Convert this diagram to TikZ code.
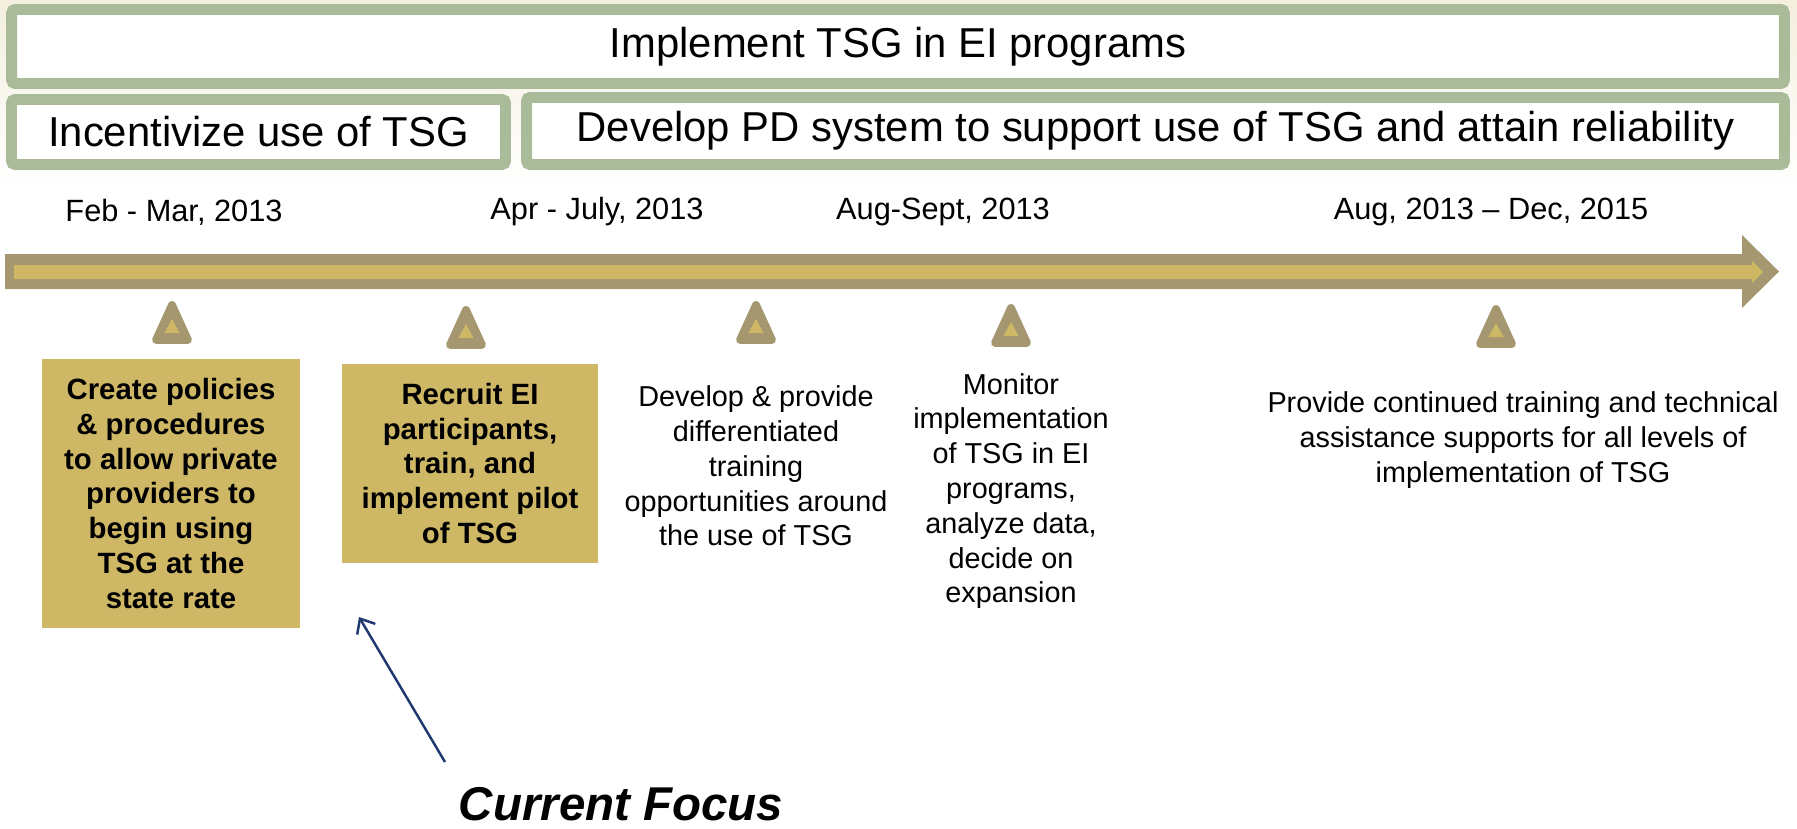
\documentclass[tikz,border=0pt]{standalone}
\usepackage{fontspec}
\setmainfont{Liberation Sans}
\usetikzlibrary{positioning,arrows.meta}

\definecolor{tsggreen}{HTML}{A9BB98}
\definecolor{tsgdark}{HTML}{A5976F}
\definecolor{tsggold}{HTML}{CEB866}
\definecolor{tsgcream}{HTML}{F3EEDD}
\definecolor{tsgnavy}{HTML}{1F3870}

\begin{document}
\begin{tikzpicture}[
		x=0.02cm, y=-0.02cm,
		phase/.style={draw=tsggreen, line width=6.2pt, rounded corners=2pt, fill=white, inner sep=0pt, font=\fontsize{23.8}{28}\selectfont},
		datelabel/.style={inner sep=0pt, font=\fontsize{17.5}{21}\selectfont},
		task/.style={fill=tsggold, inner sep=0pt, align=center, font=\fontsize{16.7}{19.8}\selectfont\bfseries},
		note/.style={inner sep=0pt, align=center, font=\fontsize{16.4}{19.8}\selectfont},
		marker/.style={fill=tsgdark, draw=tsgdark, line width=4.5pt, line join=round},
	]
		\useasboundingbox (0,0) rectangle (1797,828);
		\fill[top color=tsgcream, bottom color=white] (0,0) rectangle (1797,185);

		% phases
		\node [phase, minimum width=35.46cm, minimum height=1.48cm] (goal) at (898,46.5) {Implement TSG in EI programs};
		\node [phase, minimum width=9.88cm, minimum height=1.3cm] (incent) at (258.5,132) {Incentivize use of TSG};
		\node [phase, minimum width=25.16cm, minimum height=1.34cm] (pdsys) at (1155.5,131) {Develop PD system to support use of TSG and attain reliability};

		% dates
		\node [datelabel] (d1) at (174,212) {Feb - Mar, 2013};
		\node [datelabel] (d2) at (597,212) {Apr - July, 2013};
		\node [datelabel] (d3) at (943,212) {Aug-Sept, 2013};
		\node [datelabel] (d4) at (1491,212) {Aug, 2013 – Dec, 2015};

		% timeline
		\fill[tsgdark] (5,254) -- (1742,254) -- (1742,235) -- (1779,271.5) -- (1742,308) -- (1742,289) -- (5,289) -- cycle;
		\fill[tsggold] (14,265) -- (1752,265) -- (1752,261) -- (1763,272) -- (1752,283) -- (1752,279) -- (14,279) -- cycle;

		\foreach \mx/\my [count=\i] in {172/322, 466/327, 756/322, 1011/325, 1496/326} {
			\coordinate (m\i) at (\mx,\my);
			\filldraw[marker] (m\i) ++(0,-17) -- ++(-16,35) -- ++(32,0) -- cycle;
			\fill[tsggold] (m\i) ++(0,-3) -- ++(-7.5,14) -- ++(15,0) -- cycle;
		}

		% tasks
		\node [task, minimum width=5.16cm, minimum height=5.38cm] (policies) at (171,493.5) {Create policies\\ \& procedures\\ to allow private\\ providers to\\ begin using\\ TSG at the\\ state rate};
		\node [task, minimum width=5.12cm, minimum height=3.98cm] (pilot) at (470,463.5) {Recruit EI\\ participants,\\ train, and\\ implement pilot\\ of TSG};
		\node [note] (training) at (756,466) {Develop \& provide\\ differentiated\\ training\\ opportunities around\\ the use of TSG};
		\node [note] (monitor) at (1011,491) {Monitor\\ implementation\\ of TSG in EI\\ programs,\\ analyze data,\\ decide on\\ expansion};
		\node [note] (support) at (1523,440) {Provide continued training and technical\\ assistance supports for all levels of\\ implementation of TSG};

		% current focus
		\node [inner sep=0pt, font=\fontsize{27}{32}\selectfont\bfseries\itshape] (focus) at (621,804) {Current Focus};
		\coordinate (focustail) at (445,762);
		\coordinate (focushead) at (359,617);
		\draw[tsgnavy, line width=1.4pt, -{Straight Barb[length=7pt,width=12pt]}] (focustail) -- (focushead);
	\end{tikzpicture}
\end{document}
